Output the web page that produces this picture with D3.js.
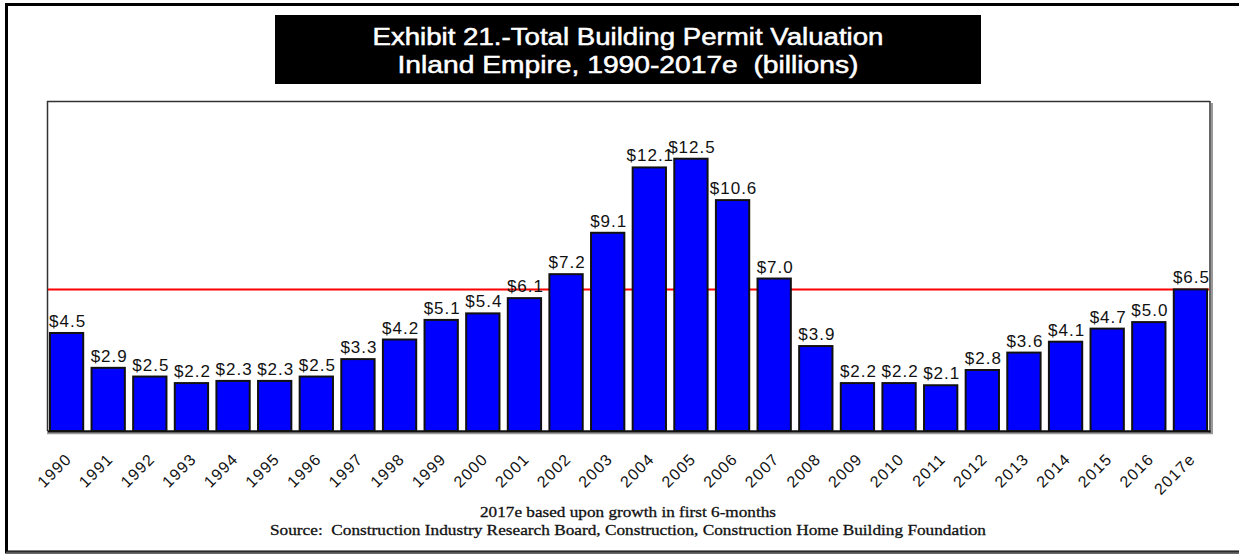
<!DOCTYPE html>
<html>
<head>
<meta charset="utf-8">
<script src="https://cdn.jsdelivr.net/npm/d3@7"></script>
<style>
  html, body { margin: 0; padding: 0; background: #fff; }
  svg { display: block; }
  text { white-space: pre; }
</style>
</head>
<body>
<svg id="chart" width="1239" height="554"></svg>
<script>
// ---- data ----
const years = ["1990","1991","1992","1993","1994","1995","1996","1997","1998","1999",
               "2000","2001","2002","2003","2004","2005","2006","2007","2008","2009",
               "2010","2011","2012","2013","2014","2015","2016","2017e"];
const values = [4.5, 2.9, 2.5, 2.2, 2.3, 2.3, 2.5, 3.3, 4.2, 5.1,
                5.4, 6.1, 7.2, 9.1, 12.1, 12.5, 10.6, 7.0, 3.9, 2.2,
                2.2, 2.1, 2.8, 3.6, 4.1, 4.7, 5.0, 6.5];
const valueLabels = ["$4.5","$2.9","$2.5","$2.2","$2.3","$2.3","$2.5","$3.3","$4.2","$5.1",
                     "$5.4","$6.1","$7.2","$9.1","$12.1","$12.5","$10.6","$7.0","$3.9","$2.2",
                     "$2.2","$2.1","$2.8","$3.6","$4.1","$4.7","$5.0","$6.5"];
const referenceValue = [6.5];
const titleLines = ["Exhibit 21.-Total Building Permit Valuation", "Inland Empire, 1990-2017e  (billions)"];
const footerLines = ["2017e based upon growth in first 6-months",
                     "Source:  Construction Industry Research Board, Construction, Construction Home Building Foundation"];

const data = years.map((y, i) => ({ year: y, value: values[i], label: valueLabels[i] }));

// ---- layout ----
const svg = d3.select("#chart");
const plot = { left: 47, right: 1210, top: 101, bottom: 431 };

const x = d3.scaleBand().domain(years).range([plot.left, plot.right])
  .paddingInner(0.2).paddingOuter(0.07);
const y = d3.scaleLinear().domain([0, 15.15]).range([plot.bottom, plot.top]);

// outer frame
svg.append("rect").attr("x", 6.5).attr("y", 4.5).attr("width", 1240).attr("height", 547.5)
  .attr("fill", "none").attr("stroke", "#000").attr("stroke-width", 3);
svg.append("line").attr("x1", 6).attr("x2", 1239).attr("y1", 552.5).attr("y2", 552.5)
  .attr("stroke", "#555").attr("stroke-width", 2);

// title box
svg.append("rect").attr("x", 275).attr("y", 15).attr("width", 706).attr("height", 69)
  .attr("fill", "#000");
const titleX = (275 + 981) / 2;
svg.append("text").attr("x", titleX).attr("y", 45).attr("text-anchor", "middle")
  .attr("font-family", "Arial, 'Liberation Sans', sans-serif").attr("font-size", 23)
  .attr("fill", "#fff").attr("stroke", "#fff").attr("stroke-width", 0.5)
  .attr("textLength", 511).attr("lengthAdjust", "spacingAndGlyphs")
  .text(titleLines[0]);
svg.append("text").attr("x", titleX).attr("y", 73).attr("text-anchor", "middle")
  .attr("font-family", "Arial, 'Liberation Sans', sans-serif").attr("font-size", 23)
  .attr("fill", "#fff").attr("stroke", "#fff").attr("stroke-width", 0.5)
  .attr("textLength", 461).attr("lengthAdjust", "spacingAndGlyphs")
  .text(titleLines[1]);

// plot frame (left, top, right with shadow)
svg.append("line").attr("x1", plot.left).attr("x2", plot.right).attr("y1", plot.top + 0.5).attr("y2", plot.top + 0.5)
  .attr("stroke", "#333").attr("stroke-width", 1.5);
svg.append("line").attr("x1", plot.left + 0.5).attr("x2", plot.left + 0.5).attr("y1", plot.top).attr("y2", plot.bottom)
  .attr("stroke", "#333").attr("stroke-width", 1.5);
svg.append("line").attr("x1", plot.right).attr("x2", plot.right).attr("y1", plot.top).attr("y2", plot.bottom + 2)
  .attr("stroke", "#333").attr("stroke-width", 1.5);
svg.append("line").attr("x1", plot.right + 2).attr("x2", plot.right + 2).attr("y1", plot.top + 2).attr("y2", plot.bottom + 3)
  .attr("stroke", "#999").attr("stroke-width", 2);

// reference line
svg.selectAll("line.ref").data(referenceValue).enter().append("line").attr("class", "ref")
  .attr("x1", plot.left + 1).attr("x2", plot.right - 1)
  .attr("y1", d => y(d)).attr("y2", d => y(d))
  .attr("stroke", "#ff0000").attr("stroke-width", 2);

// bars
svg.selectAll("rect.bar").data(data).enter().append("rect").attr("class", "bar")
  .attr("x", d => x(d.year))
  .attr("y", d => y(d.value))
  .attr("width", x.bandwidth())
  .attr("height", d => y(0) - y(d.value))
  .attr("fill", "#0000ff").attr("stroke", "#111").attr("stroke-width", 2);

// value labels
svg.selectAll("text.val").data(data).enter().append("text").attr("class", "val")
  .attr("x", d => x(d.year) + x.bandwidth() / 2 + 1)
  .attr("y", d => y(d.value) - 6)
  .attr("text-anchor", "middle")
  .attr("font-family", "Arial, 'Liberation Sans', sans-serif").attr("font-size", 17)
  .attr("letter-spacing", 1).attr("fill", "#111")
  .text(d => d.label);

// x axis
const xAxis = svg.append("g").attr("transform", `translate(0,${plot.bottom})`)
  .call(d3.axisBottom(x).tickSize(0).tickSizeOuter(0));
xAxis.select(".domain").attr("stroke", "#111").attr("stroke-width", 2.5);
svg.append("line").attr("x1", plot.left).attr("x2", plot.right + 3).attr("y1", plot.bottom + 2.5).attr("y2", plot.bottom + 2.5)
  .attr("stroke", "#999").attr("stroke-width", 1.5);
xAxis.selectAll(".tick text")
  .attr("font-family", "Arial, 'Liberation Sans', sans-serif").attr("font-size", 16)
  .attr("letter-spacing", 1.2).attr("fill", "#111")
  .attr("text-anchor", "end")
  .attr("dy", 0).attr("y", 0)
  .attr("transform", "translate(6,29) rotate(-45)");

// footer
svg.append("text").attr("x", 628).attr("y", 517).attr("text-anchor", "middle")
  .attr("font-family", "'Liberation Serif', 'Times New Roman', serif").attr("font-size", 15)
  .attr("fill", "#111").attr("stroke", "#111").attr("stroke-width", 0.3)
  .attr("textLength", 296).attr("lengthAdjust", "spacingAndGlyphs")
  .text(footerLines[0]);
svg.append("text").attr("x", 628).attr("y", 535).attr("text-anchor", "middle")
  .attr("font-family", "'Liberation Serif', 'Times New Roman', serif").attr("font-size", 15)
  .attr("fill", "#111").attr("stroke", "#111").attr("stroke-width", 0.3)
  .attr("textLength", 716).attr("lengthAdjust", "spacingAndGlyphs")
  .text(footerLines[1]);
</script>
</body>
</html>
